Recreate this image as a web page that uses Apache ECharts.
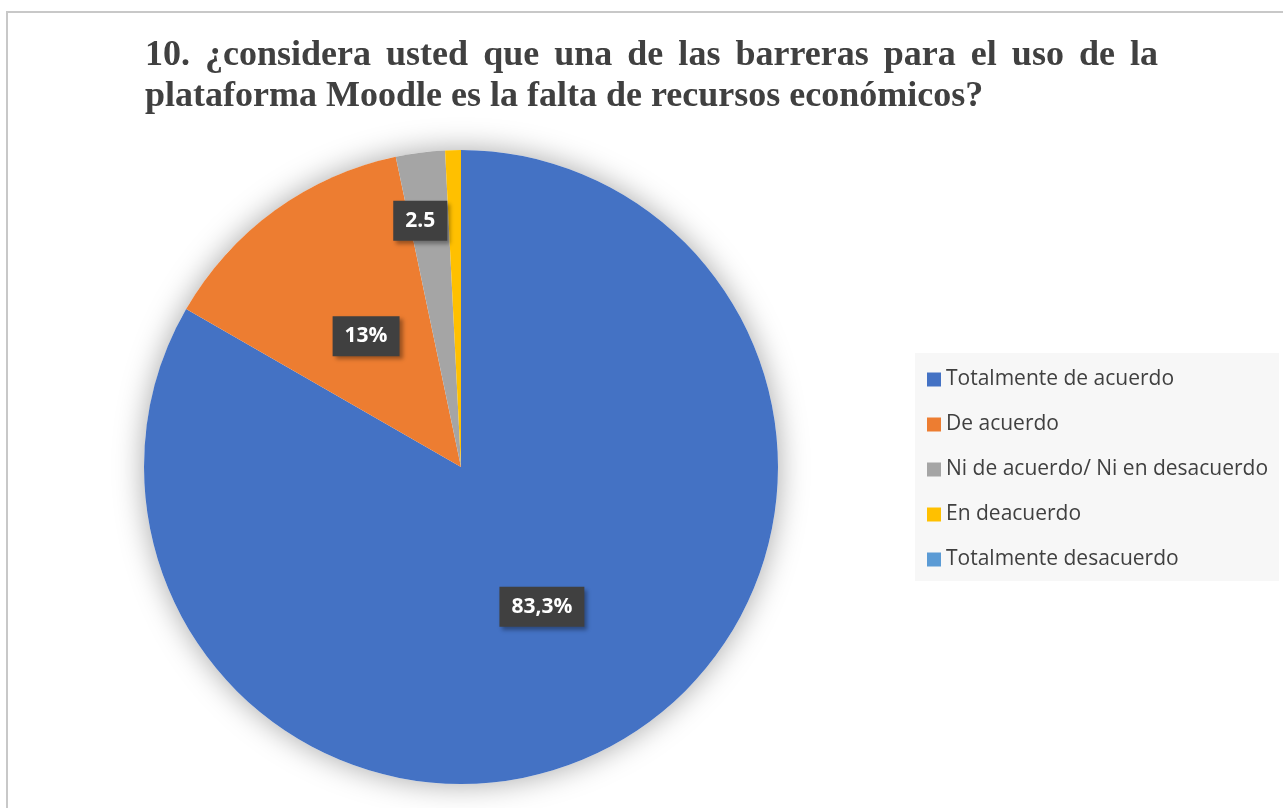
<!DOCTYPE html>
<html><head><meta charset="utf-8">
<script src="https://cdn.jsdelivr.net/npm/echarts@6/dist/echarts.min.js"></script>
<style>html,body{margin:0;padding:0;background:#fff;}#c{width:1283px;height:808px;}</style>
</head><body><div id="c"></div>
<script>
const titleLines = ['10. ¿considera usted que una de las barreras para el uso de la', 'plataforma Moodle es la falta de recursos económicos?'];
const categories = ['Totalmente de acuerdo', 'De acuerdo', 'Ni de acuerdo/ Ni en desacuerdo', 'En deacuerdo', 'Totalmente desacuerdo'];
const values = [83.3, 13.4, 2.5, 0.8, 0];
const labelTexts = ['83,3%', '13%', '2.5', '', ''];
const colors = ['#4472C4', '#ED7D31', '#A5A5A5', '#FFC000', '#5B9BD5'];

// first title line is justified: widen the word gaps
const line1 = titleLines[0].split(' ').join('{g| }');

const chart = echarts.init(document.getElementById('c'));
chart.setOption({
  animation: false,
  graphic: [{
    type: 'rect', z: -10, silent: true,
    shape: { x: 7, y: 12, width: 2000, height: 2000 },
    style: { fill: 'none', stroke: '#c8c8c8', lineWidth: 2 }
  }],
  title: {
    text: line1 + '\n' + titleLines[1],
    left: 145, top: 35, padding: 0,
    textStyle: {
      fontFamily: 'Liberation Serif', fontWeight: 'bold', fontSize: 36, color: '#404040', lineHeight: 41,
      rich: { g: { width: 15.05, fontFamily: 'Liberation Serif', fontWeight: 'bold', fontSize: 36, lineHeight: 41 } }
    }
  },
  legend: {
    orient: 'vertical', left: 915, top: 353,
    data: categories,
    backgroundColor: '#f7f7f7',
    padding: [16, 11, 11, 12],
    itemWidth: 14, itemHeight: 14, itemGap: 24,
    icon: 'rect',
    textStyle: { fontFamily: 'Open Sans', fontSize: 21, lineHeight: 21, color: '#404040' }
  },
  series: [{
    type: 'pie', silent: true, z: 1,
    center: [461, 467], radius: 317,
    label: { show: false }, labelLine: { show: false },
    itemStyle: { color: '#fff', shadowBlur: 30, shadowColor: 'rgba(0,0,0,0.35)' },
    data: [{ value: 1, name: '__bg' }]
  }, {
    type: 'pie', z: 2,
    center: [461, 467], radius: 317,
    startAngle: 90, clockwise: true,
    avoidLabelOverlap: false,
    data: categories.map((n, i) => ({
      name: n, value: values[i], itemStyle: { color: colors[i] },
      label: { show: labelTexts[i] !== '' }
    })),
    label: {
      show: true, position: 'inside',
      formatter: p => labelTexts[p.dataIndex],
      fontFamily: 'Open Sans', fontWeight: 'bold', fontSize: 21, color: '#fff',
      backgroundColor: '#404040', padding: [10, 12, 9, 12],
      shadowColor: 'rgba(0,0,0,0.35)', shadowBlur: 4, shadowOffsetX: 3, shadowOffsetY: 3
    },
    labelLayout: p => (p.dataIndex === 2 ? { dx: -20, dy: -86 } : {}),
    labelLine: { show: false }
  }]
});
</script></body></html>
